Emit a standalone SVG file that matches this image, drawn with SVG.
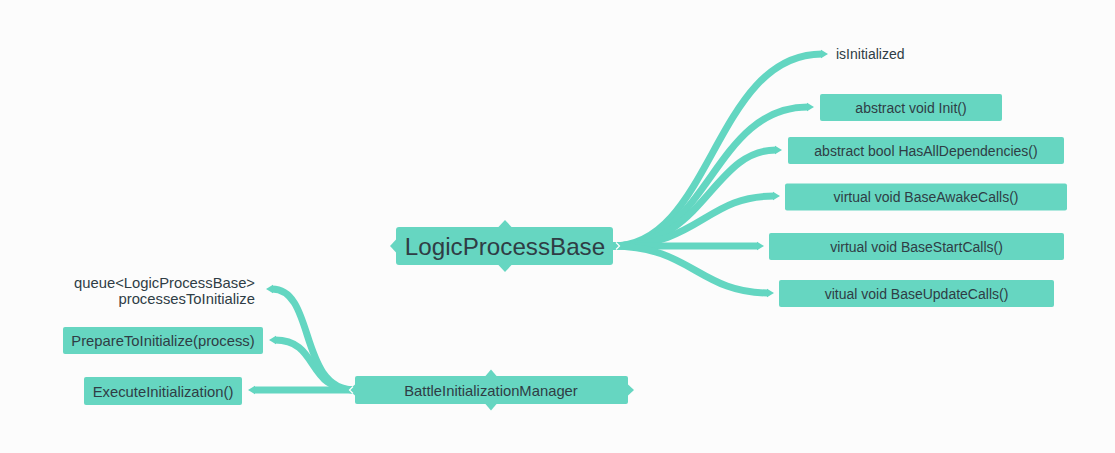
<svg xmlns="http://www.w3.org/2000/svg" width="1115" height="453" viewBox="0 0 1115 453">
<defs>
<style>
.bx{fill:#66d6c1;}
.t{font-family:"Liberation Sans",Arial,sans-serif;fill:#2f3d45;}
.c{fill:none;stroke:#63d6c1;stroke-width:7;stroke-linecap:butt;}
.chev{fill:none;stroke:#ffffff;stroke-width:1.2;}
</style>
<marker id="tip" viewBox="0 0 8 10" refX="1" refY="5" markerWidth="8" markerHeight="10" markerUnits="userSpaceOnUse" orient="auto">
<path d="M0,0.8 L7,5 L0,9.2 Z" fill="#63d6c1"/>
</marker>
</defs>
<rect width="1115" height="453" fill="#fcfcfc"/>
<g id="connectors">
<path class="c" marker-end="url(#tip)" d="M613,246 C712,246 714,54 822,54"/>
<path class="c" marker-end="url(#tip)" d="M613,246 C710,246 712,107 808,107"/>
<path class="c" marker-end="url(#tip)" d="M613,246 C705,246 712,150 776,150"/>
<path class="c" marker-end="url(#tip)" d="M613,246 C700,246 705,196 774,196"/>
<path class="c" marker-end="url(#tip)" d="M613,246 L758,246"/>
<path class="c" marker-end="url(#tip)" d="M613,246 C690,246 700,293 768,293"/>
<path class="c" marker-end="url(#tip)" d="M355,390 L254,390"/>
<path class="c" marker-end="url(#tip)" d="M355,390 C305,390 320,340 275,340"/>
<path class="c" marker-end="url(#tip)" d="M355,390 C298,390 316,289 272,289"/>
</g>
<g id="root">
<rect class="bx" x="396" y="227" width="217" height="38" rx="3"/>
<polygon class="bx" points="498,227.5 505,220 512,227.5"/>
<polygon class="bx" points="498,264.5 505,272 512,264.5"/>
<polygon class="bx" points="396.5,239 390,246 396.5,253"/>
<polyline class="chev" points="616,242.5 619.5,246 616,249.5"/>
<text class="t" x="505" y="255" font-size="24.2" text-anchor="middle">LogicProcessBase</text>
</g>
<g id="isInitialized">
<text class="t" x="836" y="59" font-size="14" fill="#3a4c53">isInitialized</text>
</g>
<g id="init">
<rect class="bx" x="820" y="94" width="182" height="27" rx="2"/>
<text class="t" x="911" y="112.5" font-size="14" text-anchor="middle">abstract void Init()</text>
</g>
<g id="hasAll">
<rect class="bx" x="788" y="137" width="276" height="27" rx="2"/>
<text class="t" x="926" y="155.5" font-size="14" text-anchor="middle">abstract bool HasAllDependencies()</text>
</g>
<g id="awake">
<rect class="bx" x="785" y="183.5" width="282" height="27" rx="2"/>
<text class="t" x="926" y="202" font-size="14" text-anchor="middle">virtual void BaseAwakeCalls()</text>
</g>
<g id="start">
<rect class="bx" x="769" y="233" width="295" height="27" rx="2"/>
<text class="t" x="916.5" y="251.5" font-size="14" text-anchor="middle">virtual void BaseStartCalls()</text>
</g>
<g id="update">
<rect class="bx" x="779" y="280" width="275" height="27" rx="2"/>
<text class="t" x="916.5" y="298.5" font-size="14" text-anchor="middle">vitual void BaseUpdateCalls()</text>
</g>
<g id="manager">
<rect class="bx" x="355" y="376" width="273" height="28" rx="2"/>
<polygon class="bx" points="485,376.5 491,369.5 497,376.5"/>
<polygon class="bx" points="485,403.5 491,410.5 497,403.5"/>
<polygon class="bx" points="627.5,384 634,390 627.5,396"/>
<polygon class="bx" points="355.5,384 349,390 355.5,396"/>
<polyline class="chev" points="353,386.5 349.5,390 353,393.5"/>
<text class="t" x="491" y="395.5" font-size="14.8" text-anchor="middle">BattleInitializationManager</text>
</g>
<g id="queue">
<text class="t" x="255" y="288" font-size="14.8" text-anchor="end" fill="#3a4c53">queue&lt;LogicProcessBase&gt;</text>
<text class="t" x="255" y="304" font-size="14.8" text-anchor="end" fill="#3a4c53">processesToInitialize</text>
</g>
<g id="prepare">
<rect class="bx" x="63" y="327" width="200" height="27" rx="2"/>
<text class="t" x="163" y="346" font-size="14.8" text-anchor="middle">PrepareToInitialize(process)</text>
</g>
<g id="execute">
<rect class="bx" x="84" y="377" width="158" height="28" rx="2"/>
<text class="t" x="163" y="396.5" font-size="14.8" text-anchor="middle">ExecuteInitialization()</text>
</g>
</svg>
